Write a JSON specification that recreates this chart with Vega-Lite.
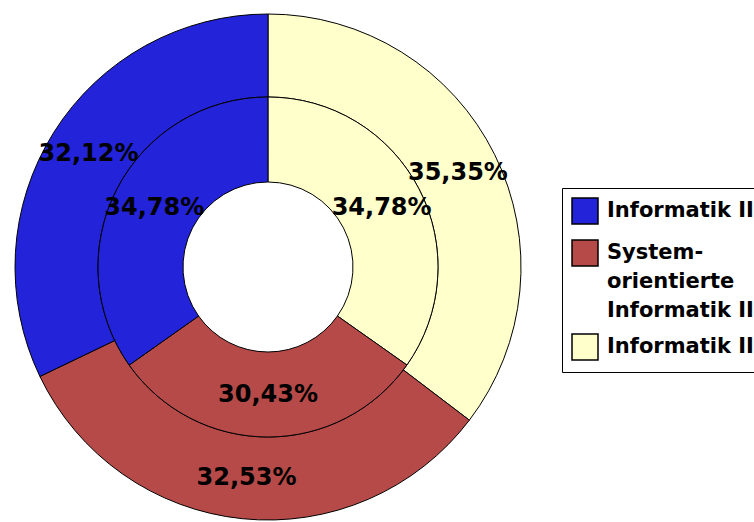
{
  "$schema": "https://vega.github.io/schema/vega-lite/v6.json",
  "width": 536,
  "height": 510,
  "padding": {"left": 0, "top": 12, "right": 218, "bottom": 0},
  "autosize": {"type": "none"},
  "background": "white",
  "view": {"stroke": null},
  "data": {
    "values": [
      {"ring": "outer", "category": "Informatik III", "ord": 1, "value": 35.35, "label": "35,35%"},
      {"ring": "outer", "category": "Systemorientierte Informatik II", "ord": 2, "value": 32.53, "label": "32,53%"},
      {"ring": "outer", "category": "Informatik II", "ord": 3, "value": 32.12, "label": "32,12%"},
      {"ring": "inner", "category": "Informatik III", "ord": 1, "value": 34.78, "label": "34,78%"},
      {"ring": "inner", "category": "Systemorientierte Informatik II", "ord": 2, "value": 30.43, "label": "30,43%"},
      {"ring": "inner", "category": "Informatik II", "ord": 3, "value": 34.78, "label": "34,78%"}
    ]
  },
  "encoding": {
    "theta": {"field": "value", "type": "quantitative", "stack": true},
    "order": {"field": "ord", "type": "quantitative"},
    "color": {
      "field": "category",
      "type": "nominal",
      "scale": {
        "domain": ["Informatik II", "Systemorientierte Informatik II", "Informatik III"],
        "range": ["#2323d9", "#b64a48", "#ffffcc"]
      },
      "legend": {
        "title": null,
        "orient": "none",
        "legendX": 562,
        "legendY": 176,
        "symbolType": "square",
        "symbolSize": 676,
        "symbolStrokeColor": "black",
        "symbolStrokeWidth": 1.5,
        "symbolOpacity": 1,
        "labelFont": "DejaVu Sans",
        "labelFontWeight": "bold",
        "labelFontSize": 21,
        "labelColor": "black",
        "labelLimit": 300,
        "labelOffset": 8,
        "strokeColor": "black",
        "fillColor": "white",
        "padding": 9,
        "rowPadding": 10,
        "labelExpr": "datum.label == 'Systemorientierte Informatik II' ? ['System-', 'orientierte', 'Informatik II'] : datum.label",
        "encode": {"labels": {"update": {"lineHeight": {"value": 29}}}}
      }
    }
  },
  "layer": [
    {
      "transform": [{"filter": "datum.ring == 'outer'"}],
      "mark": {"type": "arc", "radius": 253, "radius2": 170, "stroke": "black", "strokeWidth": 1}
    },
    {
      "transform": [{"filter": "datum.ring == 'inner'"}],
      "mark": {"type": "arc", "radius": 170, "radius2": 85, "stroke": "black", "strokeWidth": 1}
    },
    {
      "transform": [{"filter": "datum.ring == 'outer'"}],
      "mark": {"type": "text", "radius": 212, "font": "DejaVu Sans", "fontWeight": "bold", "fontSize": 24, "align": "center", "baseline": "middle"},
      "encoding": {"text": {"field": "label"}, "color": {"value": "black"}}
    },
    {
      "transform": [{"filter": "datum.ring == 'inner'"}],
      "mark": {"type": "text", "radius": 128, "font": "DejaVu Sans", "fontWeight": "bold", "fontSize": 24, "align": "center", "baseline": "middle"},
      "encoding": {"text": {"field": "label"}, "color": {"value": "black"}}
    }
  ]
}
